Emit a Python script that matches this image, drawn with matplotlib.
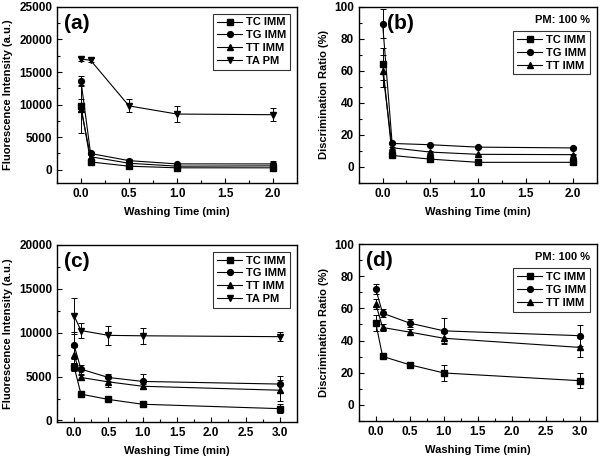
import matplotlib
matplotlib.use("Agg")
import matplotlib.pyplot as plt
from matplotlib.ticker import MultipleLocator, AutoMinorLocator

plt.rcParams["font.family"] = ["Liberation Sans", "DejaVu Sans"]
plt.rcParams["font.weight"] = "bold"

# panel (a) / (b): washing up to 2 min
X_AB = [0.0, 0.1, 0.5, 1.0, 2.0]
A_TC = [9800, 1200, 550, 300, 300]
A_TG = [13600, 2500, 1400, 900, 900]
A_TT = [9300, 2000, 1000, 550, 600]
A_TA = [17000, 16800, 9800, 8550, 8450]
A_TC_ERR = [1000, 150, 150, 100, 100]
A_TG_ERR = [800, 200, 200, 200, 500]
A_TT_ERR = [3700, 200, 150, 100, 150]
A_TA_ERR = [300, 300, 1000, 1200, 1000]

B_TC = [64.4, 7.1, 4.8, 2.8, 2.8]
B_TG = [89.4, 14.6, 13.8, 12.3, 11.8]
B_TT = [60.0, 11.9, 9.2, 7.8, 7.6]
B_TC_ERR = [10, 0.5, 0.5, 0.3, 0.3]
B_TG_ERR = [9, 0.6, 0.5, 0.5, 0.5]
B_TT_ERR = [10, 0.6, 0.5, 0.5, 0.5]

# panel (c) / (d): washing up to 3 min
X_CD = [0.0, 0.1, 0.5, 1.0, 3.0]
C_TC = [6100, 3000, 2400, 1850, 1350]
C_TG = [8550, 5850, 4900, 4450, 4150]
C_TT = [7500, 4900, 4400, 3900, 3450]
C_TA = [11900, 10250, 9700, 9650, 9550]
C_TC_ERR = [500, 150, 300, 200, 500]
C_TG_ERR = [1500, 500, 350, 800, 900]
C_TT_ERR = [900, 300, 600, 300, 1200]
C_TA_ERR = [2000, 900, 1100, 900, 500]

D_TC = [50.8, 30.1, 24.9, 19.8, 15.0]
D_TG = [72.0, 57.0, 50.8, 46.0, 43.0]
D_TT = [62.7, 48.1, 45.2, 41.4, 35.7]
D_TC_ERR = [5, 1.5, 1.0, 5, 4.5]
D_TG_ERR = [3, 2.5, 2.5, 8, 6.5]
D_TT_ERR = [3, 2.0, 2.0, 3, 6]

SERIES = ["TC IMM", "TG IMM", "TT IMM", "TA PM"]
MARKERS = ["s", "o", "^", "v"]


def draw(ax, x, ys, errs, labels, tag, tag_x, xlim, ylim, ymajor, ylabel, xticks, pm=False):
    for y, e, lab, m in zip(ys, errs, labels, MARKERS):
        ms = 5.0 if m in "v^" else 4.2
        ax.errorbar(x, y, yerr=e, fmt="none", ecolor="black", elinewidth=0.7,
                    capsize=2, capthick=0.7)
        ax.plot(x, y, color="black", marker=m, ms=ms, lw=0.8, label=lab)
    ax.set_xlim(*xlim)
    ax.set_ylim(*ylim)
    ax.set_xticks(xticks)
    ax.set_xticklabels([f"{t:.1f}" for t in xticks])
    ax.yaxis.set_major_locator(MultipleLocator(ymajor))
    ax.xaxis.set_minor_locator(AutoMinorLocator(2))
    ax.yaxis.set_minor_locator(AutoMinorLocator(2))
    ax.tick_params(which="both", direction="in", labelsize=8.5, width=0.8)
    ax.tick_params(which="major", length=3.5)
    ax.tick_params(which="minor", length=2)
    for t in ax.get_xticklabels() + ax.get_yticklabels():
        t.set_fontweight("bold")
    for s in ax.spines.values():
        s.set_linewidth(1.0)
    ax.set_xlabel("Washing Time (min)", fontsize=8, fontweight="bold", labelpad=5)
    ax.set_ylabel(ylabel, fontsize=8, fontweight="bold", labelpad=4)
    ax.text(tag_x, 0.905, tag, transform=ax.transAxes, fontsize=15,
            fontweight="bold", va="center", ha="left")
    if pm:
        ax.text(0.97, 0.955, "PM: 100 %", transform=ax.transAxes, fontsize=8,
                fontweight="bold", va="top", ha="right")
        anchor = (1.0, 0.9)
    else:
        anchor = (1.0, 1.0)
    leg = ax.legend(loc="upper right", bbox_to_anchor=anchor, fontsize=8, frameon=True,
                    fancybox=False, edgecolor="black", handlelength=2.2,
                    handletextpad=0.4, borderpad=0.35, labelspacing=0.25,
                    borderaxespad=0.6)
    leg.get_frame().set_linewidth(0.8)
    for t in leg.get_texts():
        t.set_fontweight("bold")


fig = plt.figure(figsize=(6.0, 4.57), dpi=100)
ax_a = fig.add_axes([0.095, 0.600, 0.400, 0.385])
ax_b = fig.add_axes([0.598, 0.600, 0.397, 0.385])
ax_c = fig.add_axes([0.095, 0.077, 0.400, 0.387])
ax_d = fig.add_axes([0.598, 0.079, 0.397, 0.387])

draw(ax_a, X_AB, [A_TC, A_TG, A_TT, A_TA], [A_TC_ERR, A_TG_ERR, A_TT_ERR, A_TA_ERR],
     SERIES, "(a)", 0.03, (-0.25, 2.25), (-2000, 25000), 5000,
     "Fluorescence Intensity (a.u.)", [0.0, 0.5, 1.0, 1.5, 2.0])
draw(ax_b, X_AB, [B_TC, B_TG, B_TT], [B_TC_ERR, B_TG_ERR, B_TT_ERR],
     SERIES[:3], "(b)", 0.12, (-0.25, 2.25), (-10, 100), 20,
     "Discrimination Ratio (%)", [0.0, 0.5, 1.0, 1.5, 2.0], pm=True)
draw(ax_c, X_CD, [C_TC, C_TG, C_TT, C_TA], [C_TC_ERR, C_TG_ERR, C_TT_ERR, C_TA_ERR],
     SERIES, "(c)", 0.03, (-0.25, 3.25), (-150, 20000), 5000,
     "Fluorescence Intensity (a.u.)", [0.0, 0.5, 1.0, 1.5, 2.0, 2.5, 3.0])
draw(ax_d, X_CD, [D_TC, D_TG, D_TT], [D_TC_ERR, D_TG_ERR, D_TT_ERR],
     SERIES[:3], "(d)", 0.03, (-0.25, 3.25), (-10, 100), 20,
     "Discrimination Ratio (%)", [0.0, 0.5, 1.0, 1.5, 2.0, 2.5, 3.0], pm=True)

fig.savefig("out.png", dpi=100, facecolor="white")
